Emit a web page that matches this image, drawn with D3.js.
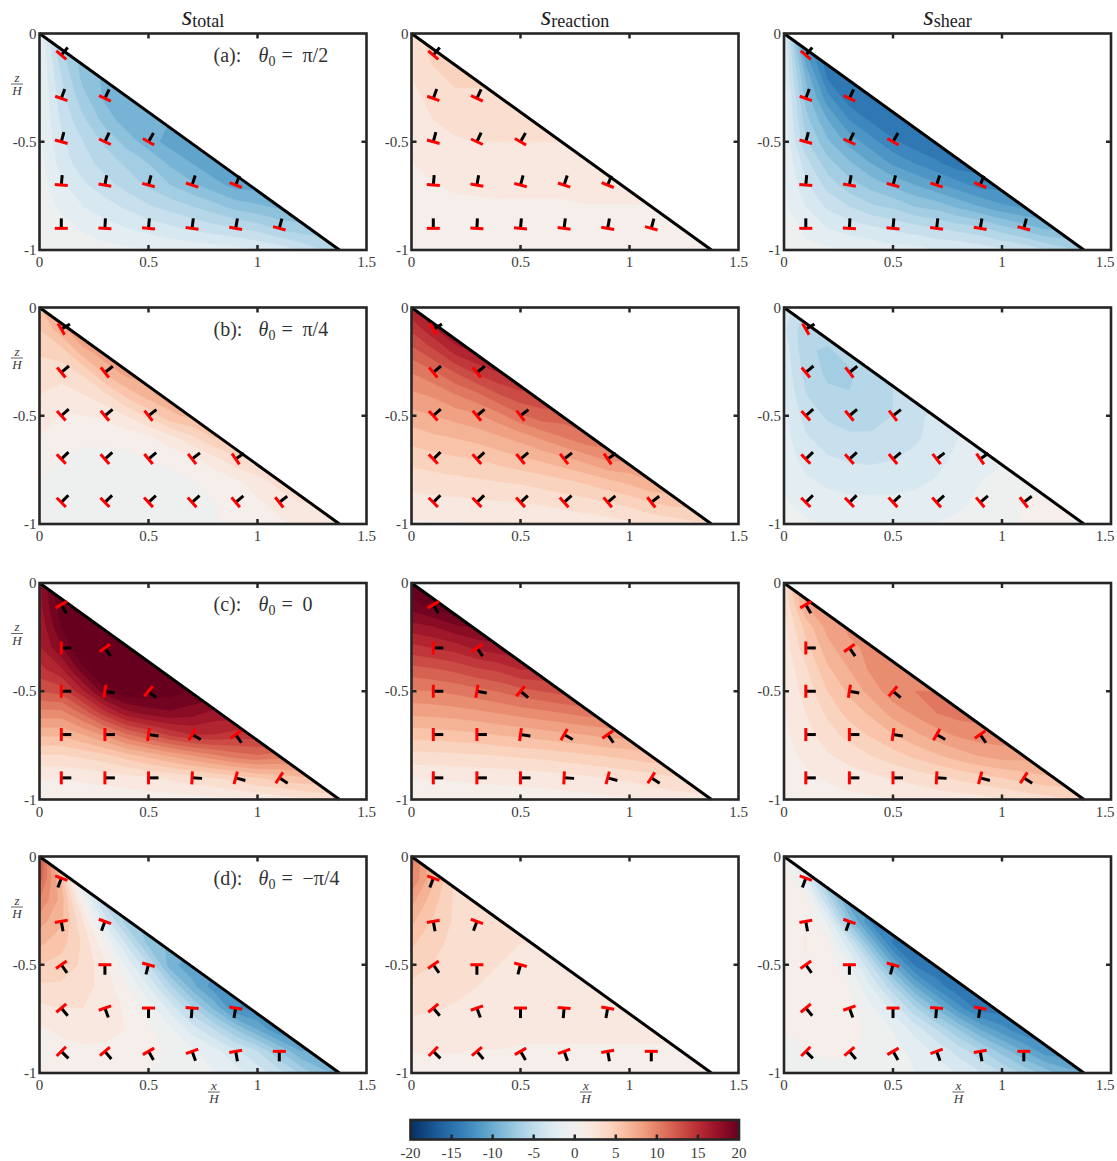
<!DOCTYPE html>
<html>
<head>
<meta charset="utf-8">
<script src="https://cdn.jsdelivr.net/npm/d3@7"></script>
<style>
  body { margin: 0; background: #fff; }
  svg { display: block; }
  text { font-family: "Liberation Serif", "DejaVu Serif", serif; }
</style>
</head>
<body>
<svg id="fig" width="1117" height="1161"></svg>
<script>
// ---------------- axes, labels ----------------
const xTicks = [0, 0.5, 1, 1.5];
const zTicks = [0, -0.5, -1];
const cbarTicks = [-20, -15, -10, -5, 0, 5, 10, 15, 20];
const columnNames = ["total", "reaction", "shear"];
const rowTags = ["(a):", "(b):", "(c):", "(d):"];
const rowTheta = ["π/2", "π/4", "0", "−π/4"];
const slopeEndX = 1.376;      // x/H where the inclined surface reaches z/H = -1
const gridStep = 0.1;         // spacing of the sampled field (x and z)

// ---------------- glyph locations ----------------
const glyphX = [0.1, 0.1, 0.3, 0.1, 0.3, 0.5, 0.1, 0.3, 0.5, 0.7, 0.9, 0.1, 0.3, 0.5, 0.7, 0.9, 1.1];
const glyphZ = [-0.1, -0.3, -0.3, -0.5, -0.5, -0.5, -0.7, -0.7, -0.7, -0.7, -0.7, -0.9, -0.9, -0.9, -0.9, -0.9, -0.9];
// direction of the black stem, degrees counter-clockwise from +x
const angleA = [50, 70, 65, 75, 65, 60, 85, 80, 75, 72, 68, 90, 87, 85, 83, 80, 75];
const angleB = [30, 40, 38, 42, 40, 38, 44, 42, 40, 38, 35, 45, 44, 43, 42, 40, 38];
const angleC = [-60, 0, -55, 0, -10, -40, 0, 0, -8, -30, -55, 0, 0, 0, -3, -15, -33];
const angleD = [-110, -80, -110, -55, -90, -105, -50, -70, -90, -95, -100, -45, -50, -60, -70, -80, -90];

// ---------------- sampled fields ----------------
// one row per z/H = 0, -0.1, ..., -1 ; entries at x/H = 0, 0.1, ... up to just past the surface
const totalA = [
  [-1, -7],
  [-1, -6, -8],
  [-1, -5, -8, -9],
  [-1, -4.5, -7, -9, -9.5, -9.5],
  [-1, -4, -6, -8, -9.5, -10, -10],
  [-1, -3.5, -5, -6.5, -8, -9.5, -10.5, -11],
  [-0.8, -3, -4.5, -5.5, -6.5, -7.5, -9, -10, -11, -11],
  [-0.6, -2.2, -3.5, -4.5, -5.5, -6.5, -7.5, -8.5, -9.5, -10.5, -10.5],
  [-0.5, -1.5, -2.5, -3.2, -4, -4.8, -5.5, -6.2, -7, -8, -8.5, -9, -9],
  [-0.3, -0.8, -1.4, -2, -2.5, -3, -3.5, -4, -4.5, -5, -5.5, -6.5, -7, -7],
  [-0.2, -0.4, -0.6, -0.8, -1, -1.2, -1.4, -1.6, -1.8, -2, -2.5, -3, -4, -5, -5.5]
];
const reactionA = [
  [3, 4.5],
  [3, 4, 4.5],
  [2.5, 3.5, 4, 4],
  [2, 3, 3.5, 3.5, 3.5, 3.5],
  [1.8, 2.5, 3, 3, 3, 3, 3],
  [1.5, 2, 2.3, 2.5, 2.5, 2.5, 2.5, 2.5],
  [1.2, 1.6, 1.8, 2, 2, 2, 2, 2, 2, 2],
  [1, 1.2, 1.4, 1.5, 1.5, 1.5, 1.5, 1.5, 1.6, 1.6, 1.6],
  [0.7, 0.9, 1, 1, 1.1, 1.1, 1.1, 1.1, 1.2, 1.2, 1.2, 1.2, 1.2],
  [0.5, 0.6, 0.7, 0.7, 0.7, 0.7, 0.8, 0.8, 0.8, 0.8, 0.9, 0.9, 0.9, 0.9],
  [0.3, 0.4, 0.4, 0.4, 0.4, 0.5, 0.5, 0.5, 0.5, 0.5, 0.6, 0.6, 0.6, 0.6, 0.6]
];
const shearA = [
  [-2, -14],
  [-2, -11, -15],
  [-2, -9, -14, -15],
  [-1.5, -8, -12, -14.5, -15, -15],
  [-1.5, -7, -10, -12.5, -14, -15, -15],
  [-1.5, -6, -8.5, -10.5, -12, -13.5, -14.5, -15],
  [-1, -4.5, -7, -8.5, -10, -11.5, -12.5, -13.5, -14.5, -14.5],
  [-1, -3.5, -5.5, -7, -8, -9, -10, -11, -12, -13, -13],
  [-1, -2.5, -4, -5, -6, -6.5, -7.5, -8, -9, -10, -11, -11.5, -11.5],
  [-0.5, -1.5, -2.5, -3, -3.5, -4, -4.5, -5, -5.5, -6, -7, -8, -9, -9],
  [-0.5, -1, -1, -1.5, -1.5, -2, -2, -2.5, -2.5, -3, -3.5, -4, -5, -6, -7]
];
const totalB = [
  [6, 10],
  [5, 7, 9.5],
  [4, 4.5, 7, 8.5],
  [3, 3, 4, 6.5, 8, 8],
  [2.5, 2, 2.5, 3.5, 5.5, 7, 7],
  [2, 1.2, 1.2, 1.5, 2.5, 4, 6, 6.5],
  [1.2, 0.5, 0.3, 0.3, 0.5, 1, 2, 3.5, 5, 5],
  [0.5, 0, -0.3, -0.4, -0.3, 0, 0.3, 1, 2, 3.5, 4],
  [0, -0.3, -0.5, -0.6, -0.6, -0.5, -0.3, 0, 0.4, 1, 2, 3, 3],
  [-0.2, -0.4, -0.6, -0.6, -0.6, -0.6, -0.5, -0.3, 0, 0.4, 1, 1.8, 2.5, 2.5],
  [-0.2, -0.4, -0.5, -0.5, -0.5, -0.5, -0.4, -0.3, -0.1, 0.2, 0.5, 1, 1.5, 2, 2]
];
const reactionB = [
  [16, 19],
  [14, 16, 18],
  [12, 13.5, 15.5, 16.5],
  [10, 11, 12.5, 14, 15, 15],
  [8.5, 9, 10, 11, 12.5, 13.5, 13.5],
  [7, 7.5, 8, 8.5, 9.5, 11, 12, 12],
  [5.5, 6, 6.3, 6.7, 7.3, 8, 9, 10, 11, 11],
  [4.2, 4.5, 4.8, 5, 5.5, 6, 6.5, 7.2, 8, 9, 9],
  [3, 3.2, 3.4, 3.6, 3.8, 4, 4.4, 4.8, 5.3, 6, 6.7, 7.5, 7.5],
  [2, 2.1, 2.2, 2.3, 2.4, 2.5, 2.7, 3, 3.3, 3.7, 4.2, 5, 5.5, 5.5],
  [1, 1.1, 1.1, 1.2, 1.2, 1.3, 1.4, 1.5, 1.7, 1.9, 2.2, 2.6, 3, 3.5, 3.5]
];
const shearB = [
  [-3, -5],
  [-3.5, -6, -5.5],
  [-3, -6, -6.5, -5.5],
  [-2.8, -5.5, -6.5, -6.5, -5.5, -5],
  [-2.5, -5, -6, -6.2, -6, -5, -4.5],
  [-2.2, -4.3, -5.2, -5.6, -5.5, -5, -4, -3.5],
  [-2, -3.6, -4.4, -4.8, -4.8, -4.5, -4, -3.2, -2.5, -2.5],
  [-1.7, -3, -3.6, -3.9, -4, -3.8, -3.4, -2.9, -2.2, -1.5, -1.5],
  [-1.4, -2.3, -2.8, -3, -3.1, -3, -2.8, -2.4, -1.9, -1.3, -0.7, -0.2, -0.2],
  [-1.1, -1.7, -2, -2.2, -2.2, -2.2, -2.1, -1.8, -1.5, -1, -0.5, 0, 0.4, 0.4],
  [-0.8, -1.1, -1.3, -1.4, -1.4, -1.4, -1.3, -1.2, -1, -0.7, -0.3, 0.1, 0.4, 0.6, 0.6]
];
const totalC = [
  [17, 22],
  [17, 21, 23],
  [16.5, 20, 23, 24],
  [16, 18.5, 22, 24, 24, 24],
  [14.5, 16, 19.5, 22.5, 23, 23, 23],
  [12.5, 13, 16, 19.5, 21, 21, 20.5, 20],
  [9.5, 9.5, 11.5, 14.5, 17, 18, 18.5, 18, 17, 17],
  [6.5, 6.5, 7.5, 9, 11, 12.5, 14, 15, 15, 14.5, 14.5],
  [3.5, 3.5, 4, 4.5, 5.5, 6.5, 7.5, 8.5, 9.5, 10.5, 11, 10.5, 10.5],
  [1.3, 1.3, 1.5, 1.7, 2, 2.3, 2.7, 3.2, 3.7, 4.3, 5, 5.5, 6, 6],
  [0.3, 0.3, 0.3, 0.4, 0.4, 0.5, 0.6, 0.7, 0.8, 1, 1.3, 1.7, 2.2, 2.8, 3]
];
const reactionC = [
  [21, 23],
  [19.5, 20.5, 21.5],
  [17, 17.5, 18.5, 19],
  [14.5, 15, 15.5, 16.5, 17, 17],
  [12, 12.3, 12.8, 13.5, 14, 15, 15],
  [9.8, 10, 10.3, 10.8, 11.3, 12, 12.5, 13],
  [7.8, 7.9, 8.1, 8.4, 8.8, 9.2, 9.6, 10, 10.5, 10.5],
  [5.5, 5.6, 5.8, 6, 6.3, 6.6, 6.9, 7.2, 7.5, 8, 8],
  [3.2, 3.3, 3.4, 3.5, 3.7, 3.9, 4.1, 4.4, 4.7, 5, 5.4, 5.8, 5.8],
  [1.3, 1.3, 1.4, 1.5, 1.6, 1.7, 1.8, 2, 2.2, 2.5, 2.8, 3.2, 3.6, 3.6],
  [0.4, 0.4, 0.4, 0.5, 0.5, 0.6, 0.6, 0.7, 0.8, 0.9, 1.1, 1.4, 1.7, 2, 2]
];
const shearC = [
  [3, 9],
  [2.5, 7.5, 9],
  [2, 5.5, 8, 9],
  [1.8, 4.5, 7, 8.5, 9, 9],
  [1.5, 3.5, 6, 7.5, 9, 9.5, 9.5],
  [1.3, 3, 5, 6.5, 8, 9.5, 10, 10],
  [1.1, 2.5, 4, 5.5, 6.5, 8, 9, 10, 10.5, 10.5],
  [1, 2, 3.2, 4.2, 5.2, 6.2, 7.2, 8.2, 9, 9.5, 9.5],
  [0.8, 1.5, 2.3, 3, 3.7, 4.4, 5.2, 6, 6.8, 7.5, 8, 8, 8],
  [0.6, 1, 1.4, 1.8, 2.2, 2.6, 3, 3.5, 4, 4.5, 5, 5.5, 6, 6],
  [0.3, 0.5, 0.7, 0.9, 1, 1.2, 1.4, 1.6, 1.8, 2, 2.4, 2.8, 3.2, 3.6, 3.8]
];
const totalD = [
  [13, 4],
  [12, 6, -4],
  [10, 7, 0, -6],
  [8, 6.5, 2.5, -3, -7, -8],
  [6.5, 5.5, 3.5, 0, -4, -8, -9],
  [5, 4.5, 3.5, 1.5, -1.5, -5, -9.5, -11],
  [3.5, 3.5, 3, 2, 0, -2.5, -6, -9.5, -12, -12],
  [2.2, 2.5, 2.5, 2, 1, -0.5, -3, -6, -9, -12.5, -13],
  [1, 1.5, 1.7, 1.6, 1.2, 0.3, -1, -3, -5, -7.5, -10, -12.5, -12.5],
  [0.5, 0.8, 1, 1, 0.8, 0.4, -0.2, -1, -2, -3.5, -5, -7.5, -10, -10],
  [0, 0.2, 0.3, 0.3, 0.2, 0, -0.3, -0.7, -1.2, -2, -3, -4.5, -6.5, -8.5, -9]
];
const reactionD = [
  [11, 5],
  [10, 6.5, 3.5],
  [8, 5.5, 3.5, 3],
  [6.5, 4.8, 3.5, 3, 2.8, 2.8],
  [5.2, 4.2, 3.3, 2.8, 2.6, 2.5, 2.5],
  [4.3, 3.7, 3.1, 2.7, 2.5, 2.4, 2.3, 2.3],
  [3.5, 3.2, 2.8, 2.5, 2.3, 2.2, 2.1, 2.1, 2, 2],
  [2.8, 2.6, 2.4, 2.2, 2, 1.9, 1.8, 1.8, 1.8, 1.8, 1.8],
  [2, 2, 1.9, 1.8, 1.7, 1.6, 1.5, 1.5, 1.5, 1.5, 1.5, 1.5, 1.5],
  [1.3, 1.3, 1.3, 1.2, 1.2, 1.1, 1.1, 1.1, 1.1, 1.1, 1.1, 1.1, 1.1, 1.1],
  [0.7, 0.7, 0.7, 0.7, 0.7, 0.7, 0.7, 0.7, 0.7, 0.7, 0.7, 0.7, 0.7, 0.7, 0.7]
];
const shearD = [
  [1, -6],
  [1, -2, -9],
  [1, 0.5, -5, -11],
  [1, 1.2, -1.5, -8, -13, -13],
  [0.8, 1.3, 0.3, -3.5, -9, -14, -14],
  [0.6, 1.2, 0.8, -1, -5, -10, -14, -15],
  [0.4, 1, 1, 0, -2.5, -6, -10, -13, -15, -15],
  [0.2, 0.7, 0.9, 0.5, -1, -3, -6, -9, -12, -14.5, -14.5],
  [0, 0.4, 0.6, 0.4, -0.3, -1.3, -3, -5, -7.5, -10, -12, -13.5, -13.5],
  [-0.3, 0, 0.2, 0.1, -0.3, -0.8, -1.6, -2.8, -4.2, -6, -8, -10, -12, -12],
  [-0.5, -0.4, -0.3, -0.3, -0.5, -0.8, -1.2, -1.8, -2.6, -3.6, -5, -6.5, -8, -9.5, -10]
];

const fieldRows = [
  [totalA, reactionA, shearA],
  [totalB, reactionB, shearB],
  [totalC, reactionC, shearC],
  [totalD, reactionD, shearD]
];
const angleRows = [angleA, angleB, angleC, angleD];

// ---------------- layout ----------------
const figW = 1117;
const colX0 = [39.5, 411.5, 784];
const rowY0 = [33.5, 307.5, 583, 856.5];
const plotW = 327, plotH = 216.5;
const frameColor = "#262626";
const textColor = "#3a3a3a";

const svg = d3.select("#fig");
const defs = svg.append("defs");

const color = d3.scaleSequential(d3.interpolateRdBu).domain([20, -20]).clamp(true);
const levelStep = 1.25;
const thresholds = d3.range(-25, 30, levelStep);

const nx = 15, nz = 11;

// stacked fraction label (numerator over denominator)
function fraction(g, cx, barY, top, bottom) {
  g.append("text").attr("x", cx).attr("y", barY - 2.5).attr("text-anchor", "middle")
    .attr("font-size", 13).attr("font-style", "italic").attr("fill", textColor).text(top);
  g.append("line").attr("x1", cx - 6).attr("x2", cx + 6).attr("y1", barY).attr("y2", barY)
    .attr("stroke", textColor).attr("stroke-width", 0.8);
  g.append("text").attr("x", cx).attr("y", barY + 11).attr("text-anchor", "middle")
    .attr("font-size", 13).attr("font-style", "italic").attr("fill", textColor).text(bottom);
}

fieldRows.forEach((row, r) => {
  row.forEach((field, c) => {
    const x = d3.scaleLinear().domain([0, 1.5]).range([colX0[c], colX0[c] + plotW]);
    const y = d3.scaleLinear().domain([0, -1]).range([rowY0[r], rowY0[r] + plotH]);
    const g = svg.append("g");

    // flatten the rows, holding the last sampled value beyond the surface
    const values = [];
    field.forEach(line => {
      for (let i = 0; i < nx; i++) values.push(line[Math.min(i, line.length - 1)]);
    });

    const clipId = `wedge-${r}-${c}`;
    defs.append("clipPath").attr("id", clipId)
      .append("path")
      .attr("d", d3.line()([[x(0), y(0)], [x(slopeEndX), y(-1)], [x(0), y(-1)]]) + "Z");

    const gridToPlot = d3.geoTransform({
      point(gx, gy) {
        this.stream.point(x((gx - 0.5) * gridStep), y(-(gy - 0.5) * gridStep));
      }
    });
    const path = d3.geoPath(gridToPlot);
    const bands = d3.contours().size([nx, nz]).thresholds(thresholds)(values);

    g.append("g").attr("clip-path", `url(#${clipId})`)
      .selectAll("path").data(bands).join("path")
      .attr("d", path)
      .attr("fill", d => color(d.value + levelStep / 2))
      .attr("stroke", d => color(d.value + levelStep / 2))
      .attr("stroke-width", 0.4);

    // inclined surface
    g.append("line")
      .attr("x1", x(0)).attr("y1", y(0))
      .attr("x2", x(slopeEndX)).attr("y2", y(-1))
      .attr("stroke", "#000").attr("stroke-width", 3);

    // orientation glyphs
    const angles = angleRows[r];
    const glyphs = g.append("g");
    glyphX.forEach((gxv, k) => {
      const cx = x(gxv), cy = y(glyphZ[k]);
      const a = angles[k] * Math.PI / 180;
      const stem = 10, half = 6.5;
      glyphs.append("line")
        .attr("x1", cx).attr("y1", cy)
        .attr("x2", cx + stem * Math.cos(a)).attr("y2", cy - stem * Math.sin(a))
        .attr("stroke", "#000").attr("stroke-width", 3);
      glyphs.append("line")
        .attr("x1", cx - half * Math.sin(a)).attr("y1", cy - half * Math.cos(a))
        .attr("x2", cx + half * Math.sin(a)).attr("y2", cy + half * Math.cos(a))
        .attr("stroke", "#ff0000").attr("stroke-width", 3);
    });

    // frame and inward ticks
    const tickLen = 5;
    xTicks.slice(1, -1).forEach(t => {
      g.append("line").attr("x1", x(t)).attr("x2", x(t))
        .attr("y1", y(0)).attr("y2", y(0) + tickLen)
        .attr("stroke", frameColor).attr("stroke-width", 2.5);
      g.append("line").attr("x1", x(t)).attr("x2", x(t))
        .attr("y1", y(-1)).attr("y2", y(-1) - tickLen)
        .attr("stroke", frameColor).attr("stroke-width", 2.5);
    });
    zTicks.slice(1, -1).forEach(t => {
      g.append("line").attr("x1", x(0)).attr("x2", x(0) + tickLen)
        .attr("y1", y(t)).attr("y2", y(t))
        .attr("stroke", frameColor).attr("stroke-width", 2.5);
      g.append("line").attr("x1", x(1.5)).attr("x2", x(1.5) - tickLen)
        .attr("y1", y(t)).attr("y2", y(t))
        .attr("stroke", frameColor).attr("stroke-width", 2.5);
    });
    g.append("rect")
      .attr("x", x(0)).attr("y", y(0))
      .attr("width", x(1.5) - x(0)).attr("height", y(-1) - y(0))
      .attr("fill", "none").attr("stroke", frameColor).attr("stroke-width", 2.6);

    // tick labels (the last one is kept inside the figure's right edge)
    g.selectAll(".xl").data(xTicks).join("text")
      .attr("x", d => Math.min(x(d), figW - 12))
      .attr("y", y(-1) + 17)
      .attr("text-anchor", "middle").attr("font-size", 15).attr("fill", textColor)
      .text(d => d3.format("")(d));
    g.selectAll(".zl").data(zTicks).join("text")
      .attr("x", x(0) - 3).attr("y", d => y(d) + 5)
      .attr("text-anchor", "end").attr("font-size", 15).attr("fill", textColor)
      .text(d => (d < 0 ? "-" : "") + Math.abs(d));

    // column titles
    if (r === 0) {
      const t = g.append("text")
        .attr("x", x(0.75)).attr("y", 25)
        .attr("text-anchor", "middle").attr("fill", "#222");
      t.append("tspan").attr("font-size", 27).attr("font-style", "italic").text("s");
      t.append("tspan").attr("font-size", 18).attr("dy", 2).text(columnNames[c]);
    }

    if (c === 0) {
      // vertical-axis label
      fraction(g, 17, y(0) + 50.5, "z", "H");

      // panel label
      const s = x(0) + 174, by = y(0) + 28;
      const lab = g.append("g").attr("fill", "#333").attr("font-size", 20);
      lab.append("text").attr("x", s).attr("y", by).text(rowTags[r]);
      lab.append("text").attr("x", s + 45).attr("y", by).attr("font-style", "italic").text("θ");
      lab.append("text").attr("x", s + 55).attr("y", by + 4).attr("font-size", 14).text("0");
      lab.append("text").attr("x", s + 68).attr("y", by).text("=");
      lab.append("text").attr("x", s + 89).attr("y", by).text(rowTheta[r]);
    }

    // horizontal-axis label on the bottom row
    if (r === 3) fraction(g, x(0.8), y(-1) + 19, "x", "H");
  });
});

// ---------------- colour bar ----------------
const cb = d3.scaleLinear().domain([-20, 20]).range([410.5, 739]);
const cbY = 1120, cbH = 19.5;
const grad = defs.append("linearGradient").attr("id", "cbar")
  .attr("x1", "0%").attr("x2", "100%").attr("y1", "0%").attr("y2", "0%");
d3.range(0, 41).forEach(i => {
  const v = -20 + i;
  grad.append("stop").attr("offset", `${(i / 40) * 100}%`).attr("stop-color", color(v));
});
svg.append("rect").attr("x", cb(-20)).attr("y", cbY)
  .attr("width", cb(20) - cb(-20)).attr("height", cbH)
  .attr("fill", "url(#cbar)");
cbarTicks.slice(1, -1).forEach(t => {
  svg.append("line").attr("x1", cb(t)).attr("x2", cb(t))
    .attr("y1", cbY + cbH).attr("y2", cbY + cbH - 5)
    .attr("stroke", frameColor).attr("stroke-width", 2.5);
});
svg.append("rect").attr("x", cb(-20)).attr("y", cbY)
  .attr("width", cb(20) - cb(-20)).attr("height", cbH)
  .attr("fill", "none").attr("stroke", frameColor).attr("stroke-width", 2.6);
svg.selectAll(".cbl").data(cbarTicks).join("text")
  .attr("x", d => cb(d)).attr("y", cbY + cbH + 18)
  .attr("text-anchor", "middle").attr("font-size", 15).attr("fill", textColor)
  .text(d => (d < 0 ? "-" : "") + Math.abs(d));
</script>
</body>
</html>
